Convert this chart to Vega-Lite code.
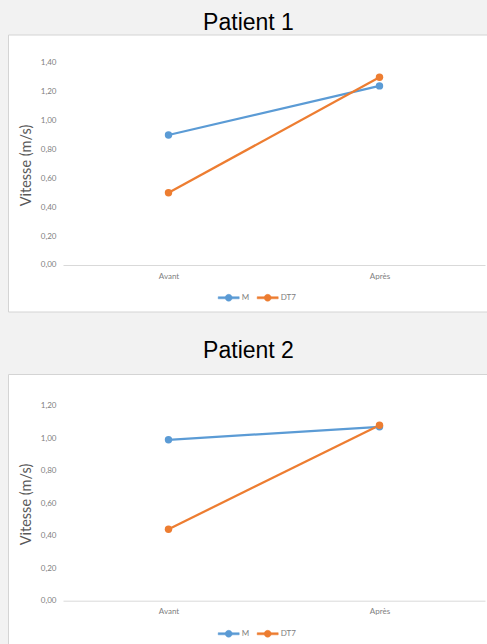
{
  "$schema": "https://vega.github.io/schema/vega-lite/v6.json",
  "background": "#f2f2f2",
  "padding": {"left": 7, "top": 11.5, "right": 0, "bottom": 0},
  "spacing": 26.5,
  "resolve": {"legend": {"color": "independent"}},
  "config": {
    "view": {"fill": "#ffffff", "stroke": "#d4d4d4", "strokeWidth": 1},
    "title": {"font": "Liberation Sans", "fontSize": 23, "fontWeight": "normal", "color": "#000000", "anchor": "middle", "baseline": "alphabetic"},
    "axis": {"labelFont": "Lato", "labelFontSize": 8, "labelColor": "#808080", "ticks": false, "grid": false, "titleFont": "Lato", "titleFontWeight": "normal", "titleColor": "#595959"},
    "legend": {"labelFont": "Lato", "labelFontSize": 8, "labelColor": "#808080", "padding": 0}
  },
  "vconcat": [
    {
      "width": 481,
      "height": 277,
      "title": {"text": "Patient 1", "offset": -0.5},
      "data": {"values": [
        {"moment": "Avant", "serie": "M", "vitesse": 0.90},
        {"moment": "Après", "serie": "M", "vitesse": 1.24},
        {"moment": "Avant", "serie": "DT7", "vitesse": 0.50},
        {"moment": "Après", "serie": "DT7", "vitesse": 1.30}
      ]},
      "encoding": {
        "x": {"field": "moment", "type": "nominal", "sort": ["Avant", "Après"],
          "scale": {"type": "point", "range": [55, 477], "padding": 0.5},
          "axis": {"title": null, "offset": -46.5, "domainColor": "#d9d9d9", "domainWidth": 1, "labelAngle": 0, "labelPadding": 7}},
        "y": {"field": "vitesse", "type": "quantitative",
          "scale": {"domain": [-0.322, 1.596], "nice": false, "zero": false},
          "axis": {"title": "Vitesse (m/s)", "values": [0, 0.2, 0.4, 0.6, 0.8, 1.0, 1.2, 1.4], "offset": -55, "domain": false,
            "labelExpr": "replace(format(datum.value, '.2f'), '.', ',')", "labelPadding": 7,
            "titleFontSize": 14.5, "titleX": -37, "titleY": 130.5, "titleAngle": -90, "titleAlign": "center", "titleBaseline": "middle"}},
        "color": {"field": "serie", "type": "nominal", "sort": ["M", "DT7"],
          "scale": {"domain": ["M", "DT7"], "range": ["#5b9bd5", "#ed7d31"]},
          "legend": {"title": null, "orient": "none", "legendX": 209.7, "legendY": 252, "direction": "horizontal",
            "symbolType": "M-1,-0.1L1,-0.1L1,0.1L-1,0.1Z M0.33,0A0.33,0.33,0,1,1,-0.33,0A0.33,0.33,0,1,1,0.33,0Z",
            "symbolSize": 441, "symbolStrokeWidth": 0.5, "labelOffset": 2, "columnPadding": 6}}
      },
      "layer": [
        {"mark": {"type": "line", "strokeWidth": 2.25}},
        {"mark": {"type": "point", "filled": true, "size": 55, "opacity": 1}}
      ]
    },
    {
      "width": 481,
      "height": 277,
      "title": {"text": "Patient 2", "offset": 11.5},
      "data": {"values": [
        {"moment": "Avant", "serie": "M", "vitesse": 0.99},
        {"moment": "Après", "serie": "M", "vitesse": 1.07},
        {"moment": "Avant", "serie": "DT7", "vitesse": 0.44},
        {"moment": "Après", "serie": "DT7", "vitesse": 1.08}
      ]},
      "encoding": {
        "x": {"field": "moment", "type": "nominal", "sort": ["Avant", "Après"],
          "scale": {"type": "point", "range": [55, 477], "padding": 0.5},
          "axis": {"title": null, "offset": -50.3, "domainColor": "#d9d9d9", "domainWidth": 1, "labelAngle": 0, "labelPadding": 7}},
        "y": {"field": "vitesse", "type": "quantitative",
          "scale": {"domain": [-0.3095, 1.395], "nice": false, "zero": false},
          "axis": {"title": "Vitesse (m/s)", "values": [0, 0.2, 0.4, 0.6, 0.8, 1.0, 1.2], "offset": -55, "domain": false,
            "labelExpr": "replace(format(datum.value, '.2f'), '.', ',')", "labelPadding": 7,
            "titleFontSize": 14.5, "titleX": -37, "titleY": 130, "titleAngle": -90, "titleAlign": "center", "titleBaseline": "middle"}},
        "color": {"field": "serie", "type": "nominal", "sort": ["M", "DT7"],
          "scale": {"domain": ["M", "DT7"], "range": ["#5b9bd5", "#ed7d31"]},
          "legend": {"title": null, "orient": "none", "legendX": 209.7, "legendY": 248.5, "direction": "horizontal",
            "symbolType": "M-1,-0.1L1,-0.1L1,0.1L-1,0.1Z M0.33,0A0.33,0.33,0,1,1,-0.33,0A0.33,0.33,0,1,1,0.33,0Z",
            "symbolSize": 441, "symbolStrokeWidth": 0.5, "labelOffset": 2, "columnPadding": 6}}
      },
      "layer": [
        {"mark": {"type": "line", "strokeWidth": 2.25}},
        {"mark": {"type": "point", "filled": true, "size": 55, "opacity": 1}}
      ]
    }
  ]
}
